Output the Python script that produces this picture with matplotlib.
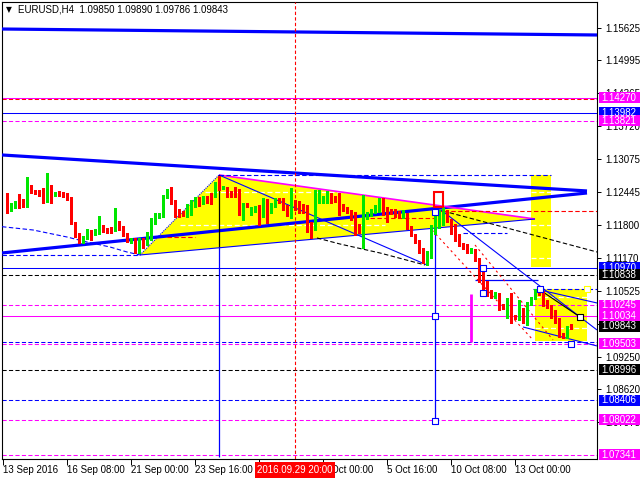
import matplotlib
matplotlib.use('Agg')
import matplotlib.pyplot as plt
from matplotlib.patches import Rectangle, Polygon
import matplotlib.transforms as mtransforms

plt.rcParams['font.family'] = ['Liberation Sans', 'DejaVu Sans']

# ---------------- data (H4 candles, bar index 1..142) ----------------
opens = [1.1235,1.1215,1.1215,1.1225,1.1223,1.1217,1.1254,1.1246,1.1242,1.1242,
         1.1231,1.1244,1.1239,1.1242,1.1242,1.1239,1.1233,1.1184,1.1161,1.1147,
         1.1155,1.1167,1.1163,1.1165,1.1176,1.1173,1.1175,1.1171,1.1186,1.1176,
         1.1163,1.1147,1.1151,1.1128,1.1147,1.1145,1.1159,1.1184,1.1196,1.1198,
         1.1235,1.1246,1.1227,1.1206,1.1206,1.1200,1.1209,1.1217,1.1231,1.1223,
         1.1233,1.1239,1.1237,1.1262,1.1252,1.1252,1.1244,1.1244,1.1244,1.1204,
         1.1221,1.1207,1.1207,1.1215,1.1211,1.1227,1.1209,1.1217,1.1231,1.1231,
         1.1215,1.1200,1.1223,1.1223,1.1219,1.1209,1.1184,1.1175,1.1225,1.1225,
         1.1229,1.1239,1.1235,1.1233,1.1219,1.1213,1.1207,1.1204,1.1180,1.1161,
         1.1194,1.1200,1.1206,1.1215,1.1229,1.1213,1.1209,1.1209,1.1206,1.1196,
         1.1198,1.1175,1.1161,1.1147,1.1132,1.1116,1.1126,1.1167,1.1176,1.1182,
         1.1202,1.1188,1.1178,1.1159,1.1143,1.1142,1.1128,1.1132,1.1112,1.1087,
         1.1068,1.1050,1.1041,1.1046,1.1025,1.1002,1.1045,1.1002,1.1000,1.1015,
         1.0992,1.1027,1.1039,1.1052,1.1048,1.1031,1.1021,1.1010,1.0996,1.0967,
         1.0963,1.09850]
highs = [1.1242,1.1223,1.1227,1.1240,1.1231,1.1273,1.1258,1.1248,1.1248,1.1252,
         1.1281,1.1258,1.1244,1.1246,1.1244,1.1242,1.1235,1.1186,1.1165,1.1159,
         1.1173,1.1171,1.1173,1.1198,1.1180,1.1175,1.1176,1.1213,1.1188,1.1178,
         1.1165,1.1155,1.1155,1.1155,1.1155,1.1167,1.1194,1.1204,1.1204,1.1239,
         1.1250,1.1254,1.1229,1.1211,1.1207,1.1221,1.1229,1.1235,1.1235,1.1237,
         1.1237,1.1242,1.1264,1.1275,1.1256,1.1254,1.1246,1.1254,1.1250,1.1223,
         1.1223,1.1215,1.1217,1.1219,1.1233,1.1231,1.1223,1.1233,1.1233,1.1233,
         1.1219,1.1252,1.1229,1.1227,1.1221,1.1219,1.1186,1.1248,1.1248,1.1237,
         1.1246,1.1242,1.1237,1.1242,1.1221,1.1215,1.1209,1.1206,1.1182,1.1239,
         1.1206,1.1211,1.1219,1.1233,1.1233,1.1215,1.1211,1.1211,1.1207,1.1209,
         1.1204,1.1178,1.1163,1.1151,1.1136,1.1130,1.1180,1.1206,1.1209,1.1215,
         1.1209,1.1192,1.1182,1.1163,1.1145,1.1143,1.1136,1.1134,1.1116,1.1099,
         1.1072,1.1054,1.1050,1.1048,1.1027,1.1039,1.1048,1.1006,1.1035,1.1019,
         1.1031,1.1041,1.1056,1.1056,1.1052,1.1035,1.1025,1.1015,1.1000,1.0971,
         1.0984,1.09890]
lows = [1.1204,1.1207,1.1213,1.1213,1.1215,1.1215,1.1242,1.1240,1.1237,1.1223,
        1.1225,1.1223,1.1237,1.1237,1.1235,1.1229,1.1182,1.1157,1.1145,1.1145,
        1.1153,1.1151,1.1161,1.1163,1.1167,1.1165,1.1165,1.1169,1.1171,1.1159,
        1.1147,1.1145,1.1126,1.1126,1.1136,1.1142,1.1151,1.1182,1.1194,1.1196,
        1.1233,1.1221,1.1196,1.1196,1.1198,1.1196,1.1200,1.1215,1.1217,1.1221,
        1.1223,1.1221,1.1235,1.1248,1.1250,1.1235,1.1235,1.1235,1.1200,1.1190,
        1.1215,1.1200,1.1206,1.1180,1.1196,1.1184,1.1204,1.1215,1.1223,1.1209,
        1.1198,1.1194,1.1209,1.1204,1.1204,1.1167,1.1155,1.1171,1.1223,1.1223,
        1.1223,1.1223,1.1225,1.1200,1.1207,1.1204,1.1190,1.1161,1.1165,1.1136,
        1.1192,1.1198,1.1204,1.1206,1.1200,1.1186,1.1202,1.1196,1.1194,1.1194,
        1.1173,1.1159,1.1145,1.1126,1.1107,1.1103,1.1116,1.1163,1.1175,1.1180,
        1.1186,1.1163,1.1149,1.1140,1.1134,1.1126,1.1126,1.1110,1.1070,1.1050,
        1.1043,1.1039,1.1039,1.1015,1.1017,1.1000,1.0990,1.0998,1.0996,1.0990,
        1.0986,1.1025,1.1037,1.1045,1.1023,1.1019,1.1000,1.0990,1.0963,1.0961,
        1.0961,1.09786]
closes = [1.1215,1.1219,1.1225,1.1221,1.1219,1.1254,1.1244,1.1240,1.1239,1.1231,
          1.1246,1.1237,1.1242,1.1239,1.1237,1.1231,1.1184,1.1159,1.1147,1.1157,
          1.1167,1.1161,1.1169,1.1176,1.1169,1.1167,1.1167,1.1188,1.1173,1.1161,
          1.1149,1.1153,1.1128,1.1147,1.1145,1.1159,1.1190,1.1198,1.1200,1.1237,
          1.1246,1.1223,1.1206,1.1204,1.1200,1.1217,1.1225,1.1231,1.1219,1.1235,
          1.1225,1.1223,1.1262,1.1252,1.1254,1.1242,1.1237,1.1240,1.1204,1.1217,
          1.1217,1.1213,1.1215,1.1211,1.1227,1.1204,1.1217,1.1231,1.1225,1.1211,
          1.1200,1.1233,1.1213,1.1206,1.1206,1.1182,1.1167,1.1225,1.1242,1.1235,
          1.1242,1.1229,1.1227,1.1209,1.1209,1.1206,1.1196,1.1167,1.1167,1.1200,
          1.1204,1.1209,1.1215,1.1229,1.1209,1.1204,1.1204,1.1198,1.1196,1.1206,
          1.1175,1.1161,1.1147,1.1128,1.1112,1.1128,1.1171,1.1196,1.1200,1.1202,
          1.1188,1.1165,1.1151,1.1142,1.1136,1.1128,1.1134,1.1112,1.1087,1.1068,
          1.1045,1.1041,1.1048,1.1021,1.1019,1.1029,1.1000,1.1000,1.1013,1.0992,
          1.1029,1.1039,1.1054,1.1046,1.1025,1.1021,1.1002,1.0996,1.0971,1.0963,
          1.0982,1.09843]

tick_pos = [0, 16, 32, 48, 64, 80, 96, 112, 128]
tick_labels = ['13 Sep 2016', '16 Sep 08:00', '21 Sep 00:00', '23 Sep 16:00',
               '', '3 Oct 00:00', '5 Oct 16:00', '10 Oct 08:00',
               '13 Oct 00:00']
price_ticks = [1.15625, 1.14995, 1.14365, 1.13720, 1.13075, 1.12445, 1.11800,
               1.11170, 1.10525, 1.09880, 1.09250, 1.08620, 1.07975]
price_tick_labels = ['1.15625', '1.14995', '1.14365', '1.13720', '1.13075', '1.12445',
                     '1.11800', '1.11170', '1.10525', '', '1.09250', '1.08620', '1.07975']

# horizontal levels: (price, color, style, label-box color)
levels = [
    (1.14270, '#ff00ff', '-', '#ff00ff'),
    (1.13982, '#0000ff', '-', '#0000ff'),
    (1.13821, '#ff00ff', '--', '#ff00ff'),
    (1.10970, '#0000ff', '-', '#0000ff'),
    (1.10838, '#000000', '--', '#000000'),
    (1.10245, '#ff00ff', '--', '#ff00ff'),
    (1.10034, '#ff00ff', '-', '#ff00ff'),
    (1.09843, None, None, '#000000'),
    (1.09503, '#ff00ff', '--', '#ff00ff'),
    (1.08996, '#000000', '--', '#000000'),
    (1.08406, '#0000ff', '--', '#0000ff'),
    (1.08022, '#ff00ff', '--', '#ff00ff'),
    (1.07341, '#ff00ff', '--', '#ff00ff'),
]

BLUE = '#0000ff'
MAG = '#ff00ff'
RED = '#ff0000'
GREEN = '#00e600'
YEL = '#ffff00'
DASH = (0, (4.0, 2.2))

fig = plt.figure(figsize=(6.4, 4.8), dpi=100)
ax = fig.add_axes([2/640, 21/480, 595/640, 457/480])
ax.set_xlim(-0.25, 148.5)
ax.set_ylim(1.07263, 1.16129)
ax.set_facecolor('white')

def hline(y, x0, x1, color, ls='-', lw=0.75, z=3):
    ax.plot([x0, x1], [y, y], color=color, ls=ls, lw=lw, zorder=z, solid_capstyle='butt')

def seg(xs, ys, color, ls='-', lw=0.75, z=3):
    ax.plot(xs, ys, color=color, ls=ls, lw=lw, zorder=z, solid_capstyle='butt')

# ---- yellow shapes ----
ax.add_patch(Polygon([(34.25, 1.11221), (54, 1.12773), (133, 1.11919)],
                     closed=True, facecolor=YEL, edgecolor='none', zorder=1))
ax.add_patch(Rectangle((132, 1.10988), 5, 1.12773 - 1.10988, facecolor=YEL,
                       edgecolor='none', zorder=1))
ax.add_patch(Rectangle((133, 1.09553), 13, 1.10561 - 1.09553, facecolor=YEL,
                       edgecolor='none', zorder=1))
# white dashed lines inside yellow areas
for y, a, b in [(1.12443, 50.5, 89.25), (1.11803, 44.25, 95.5),
                (1.12443, 132, 137), (1.11803, 132, 137), (1.11163, 132, 137),
                (1.10406, 133, 146), (1.09805, 133, 146)]:
    hline(y, a, b, 'white', ls=DASH, lw=0.9, z=1.5)

# ---- full width levels ----
for p, c, ls, bc in levels:
    if c is None:
        continue
    hline(p, -0.25, 148.5, c, ls=DASH if ls == '--' else '-', lw=0.75, z=2)
hline(1.14253, -0.25, 148.5, RED, ls=DASH, lw=0.75, z=2)
hline(1.09533, -0.25, 148.5, BLUE, ls=DASH, lw=0.75, z=2)

# ---- thick trend lines ----
seg([-0.25, 148.5], [1.15605, 1.15489], BLUE, lw=2.3)
seg([-0.25, 146], [1.13161, 1.12463], BLUE, lw=2.3)
seg([-0.25, 146], [1.11260, 1.12424], BLUE, lw=2.3)

# ---- triangle edges ----
seg([34.25, 54], [1.11221, 1.12773], BLUE, ls=(0, (1, 1)), lw=0.8)
seg([54, 133], [1.12773, 1.11919], MAG, lw=1.2)
seg([34.25, 133], [1.11221, 1.11919], BLUE, lw=0.8)
seg([54, 106], [1.12773, 1.11027], BLUE, lw=0.8)
seg([54, 137], [1.12773, 1.12773], BLUE, ls=DASH, lw=0.8)

# dashed curves
seg([78.5, 84.25, 94.25, 101.75, 105.5], [1.11551, 1.11434, 1.11260, 1.11105, 1.11027],
    'black', ls=DASH, lw=0.8)
seg([110, 148.5], [1.12075, 1.11279], 'black', ls=DASH, lw=0.8)
seg([-0.25, 7.5, 16, 21, 26.75, 31, 34.25],
    [1.11770, 1.11706, 1.11570, 1.11473, 1.11376, 1.11279, 1.11221], BLUE, ls=DASH, lw=0.8)
hline(1.11221, -0.25, 34.25, BLUE, ls=DASH, lw=0.8)
hline(1.11570, 41, 48, RED, ls=DASH, lw=0.8)
hline(1.11939, 91.75, 108, RED, ls=DASH, lw=0.8)
hline(1.12075, 108.5, 148.5, RED, ls=DASH, lw=0.8)

# ---- verticals ----
seg([54, 54], [1.12773, 1.11376], 'black', lw=0.9)
seg([54, 54], [1.11376, 1.07302], BLUE, lw=0.9)
seg([73, 73], [1.07263, 1.16129], RED, ls=(0, (3, 2)), lw=0.8)
seg([108, 108], [1.12055, 1.08000], BLUE, lw=0.9)
seg([117, 117], [1.10464, 1.09533], MAG, lw=2.0)
ax.add_patch(Rectangle((107.75, 1.12152), 2.25, 1.12443 - 1.12152, facecolor='none',
                       edgecolor=RED, lw=1.5, zorder=6))

# ---- wedge lines lower right ----
seg([109.5, 148.5], [1.12094, 1.09766], BLUE, lw=0.8)
seg([134.25, 148.5], [1.10542, 1.10290], BLUE, lw=0.8)
seg([130, 148.5], [1.09824, 1.09456], BLUE, lw=0.8)
seg([134.25, 144.25], [1.10542, 1.10018], 'black', lw=0.8)
hline(1.10736, 118, 133.75, BLUE, lw=0.9)
hline(1.10561, 132.5, 148.5, BLUE, ls=DASH, lw=0.8)
hline(1.11648, 115, 126, BLUE, ls=DASH, lw=0.8)
seg([107.25, 132.5], [1.11706, 1.09572], RED, ls=(0, (2, 3)), lw=0.8)
seg([118, 137.5], [1.11415, 1.09572], RED, ls=(0, (2, 3)), lw=0.8)

# small square markers
ax.scatter([108, 108, 108, 120, 120, 134.25, 142], [1.12055, 1.10038, 1.08000, 1.10969,
           1.10484, 1.10561, 1.09495], marker='s', s=14, facecolor='white',
           edgecolor=BLUE, lw=0.8, zorder=7)
ax.scatter([144.25], [1.10018], marker='s', s=14, facecolor='white', edgecolor='black',
           lw=0.8, zorder=7)
ax.scatter([146], [1.10561], marker='s', s=14, facecolor='white', edgecolor=YEL,
           lw=0.8, zorder=7)

# ---- candles ----
idx = list(range(1, len(opens) + 1))
for i, o, h, l, c in zip(idx, opens, highs, lows, closes):
    col = GREEN if c >= o else RED
    ax.plot([i, i], [l, h], color=col, lw=0.8, zorder=5, solid_capstyle='butt',
            antialiased=False)
    lo, hi = min(o, c), max(o, c)
    if hi - lo < 0.00015:
        hi = lo + 0.00015
    ax.add_patch(Rectangle((i - 0.375, lo), 0.75, hi - lo, facecolor=col,
                           edgecolor='none', zorder=5.5, antialiased=False))

# ---- axes styling ----
for s in ax.spines.values():
    s.set_color('black')
    s.set_linewidth(0.8)
ax.yaxis.tick_right()
ax.set_yticks(price_ticks)
ax.set_yticklabels(price_tick_labels)
ax.tick_params(axis='y', direction='out', length=3, width=0.7, pad=3, labelsize=7,
               colors='black')
ax.set_xticks(tick_pos)
ax.set_xticklabels(tick_labels)
ax.tick_params(axis='x', direction='out', length=4, width=0.7, pad=0.5, labelsize=7)
for lab in ax.get_xticklabels():
    lab.set_horizontalalignment('left')

# ---- price label boxes on right axis ----
trans = mtransforms.blended_transform_factory(fig.transFigure, ax.transData)
box_h = 0.00213
for p, c, ls, bc in levels:
    fig.add_artist(Rectangle((599/640, p - box_h/2), 41/640, box_h, facecolor=bc,
                             edgecolor='none', transform=trans, zorder=3))
    fig.text(601/640, p, '%.5f' % p, color='white', fontsize=7, ha='left',
             va='center', transform=trans, zorder=4)

# ---- time label box ----
fig.add_artist(Rectangle((255/640, 2/480), 80/640, 16/480, facecolor=RED,
                         edgecolor='none', transform=fig.transFigure, zorder=3))
fig.text(257/640, 10/480, '2016.09.29 20:00', color='white', fontsize=7,
         ha='left', va='center', zorder=4)

# ---- header ----
fig.text(6/640, 470/480, '\u25bc', fontsize=5.5, color='black', ha='left', va='center',
         family='DejaVu Sans')
fig.text(18/640, 470/480, 'EURUSD,H4  1.09850 1.09890 1.09786 1.09843', fontsize=7,
         color='black', ha='left', va='center')

fig.savefig('out.png', dpi=100, facecolor='white')
